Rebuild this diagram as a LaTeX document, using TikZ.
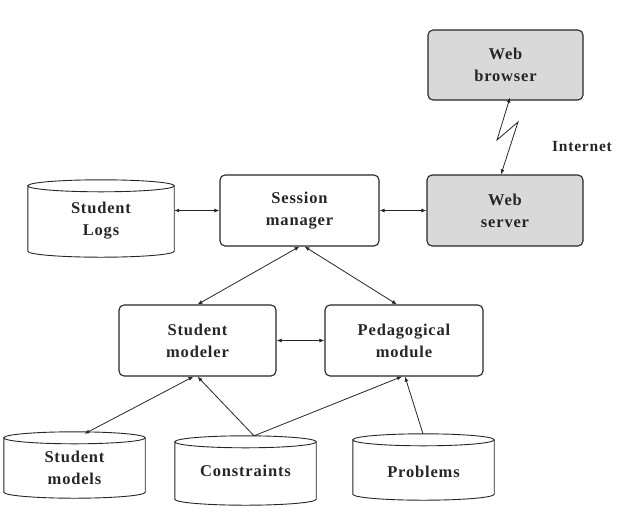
\documentclass[tikz,border=0pt]{standalone}
\usepackage{fontspec}
\setmainfont{Liberation Serif}[LetterSpace=5]
\usetikzlibrary{arrows.meta,calc}
\definecolor{webgrey}{RGB}{217,217,217}
\tikzset{
  x=1pt,y=-1pt,
  lbl/.style={font=\bfseries\fontsize{16.5}{22}\selectfont, text=black!85, align=center},
  box/.style={lbl, draw=black!85, line width=1.1pt, rounded corners=5pt, inner sep=0pt},
  webbox/.style={box, fill=webgrey},
  db/.style={lbl, inner sep=0pt},
  conn/.style={line width=0.8pt, draw=black!85, {Latex[length=5pt,width=4pt]}-{Latex[length=5pt,width=4pt]}},
  oneway/.style={line width=0.8pt, draw=black!85, -{Latex[length=5pt,width=4pt]}},
  cyl/.style={line width=0.9pt, draw=black!85}
}
\newcommand{\drawcyl}[1]{%
  \path let \p1=($(#1.east)-(#1.west)$), \n1={0.5*\x1} in
    [cyl] ([yshift=-6pt]#1.north west) -- ([yshift=6pt]#1.south west)
      arc[start angle=180, end angle=360, x radius=\n1, y radius=6pt]
      -- ([yshift=-6pt]#1.north east)
    ([yshift=-6pt]#1.north) ellipse [x radius=\n1, y radius=6pt];}
\begin{document}
\begin{tikzpicture}
\useasboundingbox (0,0) rectangle (621,515);
% boxes
\node[webbox, minimum width=155pt, minimum height=70pt] (wb) at (505.5,65) {Web\\browser};
\node[webbox, minimum width=156pt, minimum height=71pt] (ws) at (505,210.5) {Web\\server};
\node[box, minimum width=159pt, minimum height=71pt] (sm) at (299.5,210.5) {Session\\manager};
\node[box, minimum width=157pt, minimum height=71pt] (mod) at (197.5,340.5) {Student\\modeler};
\node[box, minimum width=158pt, minimum height=71pt] (ped) at (404,340.5) {Pedagogical\\module};
% databases
\node[db, minimum width=146pt, minimum height=77pt] (logs) at (101,218.5) {};
\node[lbl] at ($(logs.center)+(0,2)$) {Student\\Logs};
\node[db, minimum width=141pt, minimum height=66pt] (smod) at (74.5,465) {};
\node[lbl] at ($(smod.center)+(0,3)$) {Student\\models};
\node[db, minimum width=141pt, minimum height=69pt] (cons) at (245.5,470.5) {};
\node[lbl] at ($(cons.center)+(0,0)$) {Constraints};
\node[db, minimum width=141pt, minimum height=66pt] (prob) at (423.5,467) {};
\node[lbl] at ($(prob.center)+(0,5)$) {Problems};
\drawcyl{logs}
\drawcyl{smod}
\drawcyl{cons}
\drawcyl{prob}
% internet label
\node[lbl, font=\bfseries\fontsize{15.5}{18}\selectfont] (inet) at (582,146) {Internet};
% connectors
\draw[conn] (logs.east |- sm.west) -- (sm.west);
\draw[conn] (sm.east) -- (ws.west);
\coordinate (z1) at (497,140);
\coordinate (z2) at (518,122);
\draw[conn] ([xshift=4.5pt,yshift=3pt]wb.south) -- (z1) -- (z2) -- ([xshift=-4pt]ws.north);
\draw[conn] (sm.south) -- (mod.north);
\draw[conn] ([xshift=5pt]sm.south) -- ([xshift=-7pt]ped.north);
\draw[conn] (mod.east) -- (ped.west);
\draw[conn] ([xshift=10pt,yshift=-2pt]smod.north) -- ([xshift=-4pt]mod.south);
\draw[oneway] ([xshift=8.5pt]cons.north) -- (mod.south);
\draw[oneway] ([xshift=8.5pt]cons.north) -- ([xshift=-2pt]ped.south);
\draw[oneway] ([xshift=-0.5pt]prob.north) -- ([xshift=1pt]ped.south);
\end{tikzpicture}
\end{document}
